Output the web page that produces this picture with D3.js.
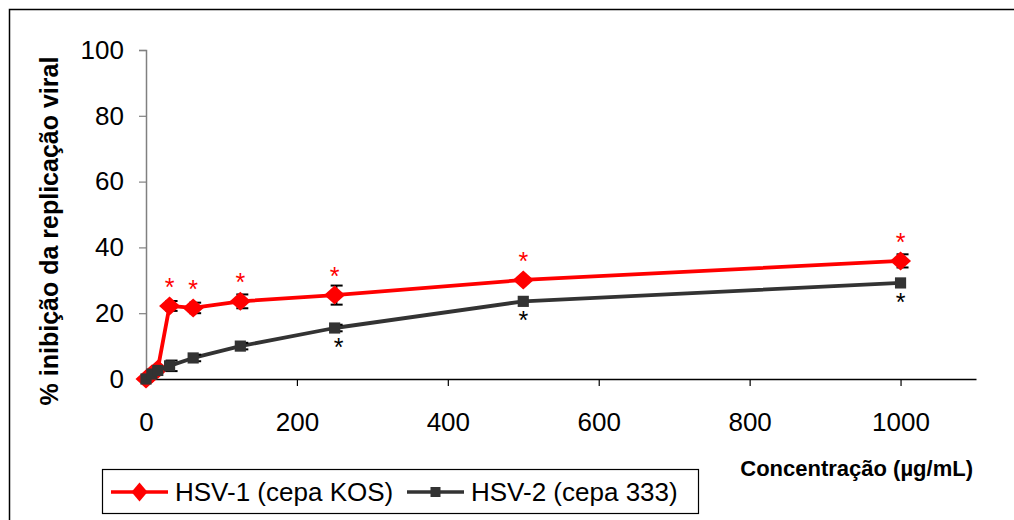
<!DOCTYPE html>
<html>
<head>
<meta charset="utf-8">
<script src="https://cdn.jsdelivr.net/npm/d3@7"></script>
<style>
  html, body { margin: 0; padding: 0; background: #fff; }
  svg { display: block; font-family: "Liberation Sans", Arial, sans-serif; }
</style>
</head>
<body>
<div id="chart"></div>
<script>
// Concentrations (µg/mL)
const conc = [0, 7.8, 15.6, 31.25, 62.5, 125, 250, 500, 1000];

// % inhibition
const hsv1 = [0, 1.5, 3, 22.2, 21.6, 23.6, 25.5, 30.1, 35.9];
const hsv1Err = [0, 0.5, 0.5, 1.5, 1.6, 2.1, 2.9, 0.6, 2.0];
const hsv1Sig = [false, false, false, true, true, true, true, true, true];

const hsv2 = [0, 1.5, 2.6, 4.0, 6.4, 10.0, 15.5, 23.6, 29.2];
const hsv2Err = [0, 0.5, 0.5, 1.6, 1.0, 1.0, 1.0, 0.6, 0.6];
const hsv2Sig = [false, false, false, false, false, false, true, true, true];

const xTicks = [0, 200, 400, 600, 800, 1000];
const yTicks = [0, 20, 40, 60, 80, 100];

const seriesNames = ['HSV-1 (cepa KOS)', 'HSV-2 (cepa 333)'];

const width = 1014, height = 520;

const svg = d3.select('#chart').append('svg')
  .attr('width', width)
  .attr('height', height);

// outer frame (cropped on right/bottom like the reference)
svg.append('rect')
  .attr('x', 9.5).attr('y', 9.5)
  .attr('width', 1020).attr('height', 530)
  .attr('fill', 'none')
  .attr('stroke', '#000')
  .attr('stroke-width', 1.5);

const x = d3.scaleLinear().domain([0, 1100]).range([146, 976]);
const y = d3.scaleLinear().domain([0, 100]).range([379, 50]);

// diamond with its own width / height (d3's diamond is too narrow)
const diamond = (w, h) => ({
  draw(ctx) {
    ctx.moveTo(0, -h / 2);
    ctx.lineTo(w / 2, 0);
    ctx.lineTo(0, h / 2);
    ctx.lineTo(-w / 2, 0);
    ctx.closePath();
  }
});

// x axis
const xAxis = svg.append('g')
  .attr('transform', `translate(0,${y(0)})`)
  .call(d3.axisBottom(x).tickValues(xTicks).tickFormat(d3.format('d'))
    .tickSize(7).tickSizeOuter(0).tickPadding(27));
xAxis.select('.domain').attr('stroke', '#000').attr('stroke-width', 1.5);
xAxis.selectAll('.tick line').attr('stroke', '#000').attr('stroke-width', 1.2);
xAxis.selectAll('.tick text')
  .attr('font-size', 26)
  .attr('font-family', '"Liberation Sans", Arial, sans-serif')
  .attr('fill', '#000');

// y axis (grey)
const yAxis = svg.append('g')
  .attr('transform', `translate(${x(0)},0)`)
  .call(d3.axisLeft(y).tickValues(yTicks).tickSize(7).tickSizeOuter(7).tickPadding(15));
yAxis.select('.domain').attr('stroke', '#808080').attr('stroke-width', 1.5);
yAxis.selectAll('.tick line').attr('stroke', '#808080').attr('stroke-width', 1.2);
yAxis.selectAll('.tick text')
  .attr('font-size', 26)
  .attr('font-family', '"Liberation Sans", Arial, sans-serif')
  .attr('fill', '#000');

// axis titles
svg.append('text')
  .attr('transform', `translate(58,231) rotate(-90)`)
  .attr('text-anchor', 'middle')
  .attr('font-size', 25)
  .attr('font-weight', 'bold')
  .text('% inibição da replicação viral');

svg.append('text')
  .attr('x', 973).attr('y', 476)
  .attr('text-anchor', 'end')
  .attr('font-size', 22)
  .attr('font-weight', 'bold')
  .text('Concentração (µg/mL)');

const line = d3.line().curve(d3.curveLinear);

function drawSeries(vals, errs, color, shape) {
  const pts = conc.map((c, i) => [x(c), y(vals[i])]);
  svg.append('path')
    .attr('d', line(pts))
    .attr('fill', 'none')
    .attr('stroke', color)
    .attr('stroke-width', 3.8)
    .attr('stroke-linejoin', 'round');

  const g = svg.append('g');
  conc.forEach((c, i) => {
    if (errs[i] > 0.8) {
      const cx = x(c) + 2, y1 = y(vals[i] + errs[i]), y2 = y(vals[i] - errs[i]);
      g.append('line').attr('x1', cx).attr('x2', cx).attr('y1', y1).attr('y2', y2)
        .attr('stroke', '#000').attr('stroke-width', 1.5);
      [y1, y2].forEach(yy => g.append('line')
        .attr('x1', cx - 6).attr('x2', cx + 6).attr('y1', yy).attr('y2', yy)
        .attr('stroke', '#000').attr('stroke-width', 2));
    }
  });
  svg.append('g').selectAll('path')
    .data(conc)
    .join('path')
    .attr('transform', (c, i) => `translate(${x(c)},${y(vals[i])})`)
    .attr('d', d3.symbol().type(shape))
    .attr('fill', color);
}

// HSV-2 is drawn on top (its squares cover the red diamonds near the origin)
drawSeries(hsv1, hsv1Err, '#ff0000', diamond(21, 19));
drawSeries(hsv2, hsv2Err, '#333333', { draw: ctx => d3.symbolSquare.draw(ctx, 125) });

// significance asterisks
svg.append('g').selectAll('text')
  .data(conc.filter((c, i) => hsv1Sig[i]))
  .join('text')
  .attr('x', c => x(c))
  .attr('y', c => y(hsv1[conc.indexOf(c)]) - 10)
  .attr('text-anchor', 'middle')
  .attr('font-size', 25)
  .attr('fill', '#ff0000')
  .text('*');

svg.append('g').selectAll('text')
  .data(conc.filter((c, i) => hsv2Sig[i]))
  .join('text')
  .attr('x', c => x(c) + (c === 250 ? 4 : 0))
  .attr('y', c => y(hsv2[conc.indexOf(c)]) + 28)
  .attr('text-anchor', 'middle')
  .attr('font-size', 25)
  .attr('fill', '#000')
  .text('*');

// legend
const lg = svg.append('g');
lg.append('rect')
  .attr('x', 102.5).attr('y', 469.5)
  .attr('width', 596).attr('height', 44)
  .attr('fill', '#fff')
  .attr('stroke', '#000')
  .attr('stroke-width', 1.2);

const legendItems = [
  { name: seriesNames[0], color: '#ff0000', shape: diamond(16, 19), x0: 111 },
  { name: seriesNames[1], color: '#333333', shape: { draw: ctx => d3.symbolSquare.draw(ctx, 100) }, x0: 407 }
];
legendItems.forEach(it => {
  lg.append('line')
    .attr('x1', it.x0).attr('x2', it.x0 + 57)
    .attr('y1', 492).attr('y2', 492)
    .attr('stroke', it.color).attr('stroke-width', 3.5);
  lg.append('path')
    .attr('transform', `translate(${it.x0 + 28.5},492)`)
    .attr('d', d3.symbol().type(it.shape))
    .attr('fill', it.color);
  lg.append('text')
    .attr('x', it.x0 + 64).attr('y', 501)
    .attr('font-size', 26)
    .text(it.name);
});
</script>
</body>
</html>
